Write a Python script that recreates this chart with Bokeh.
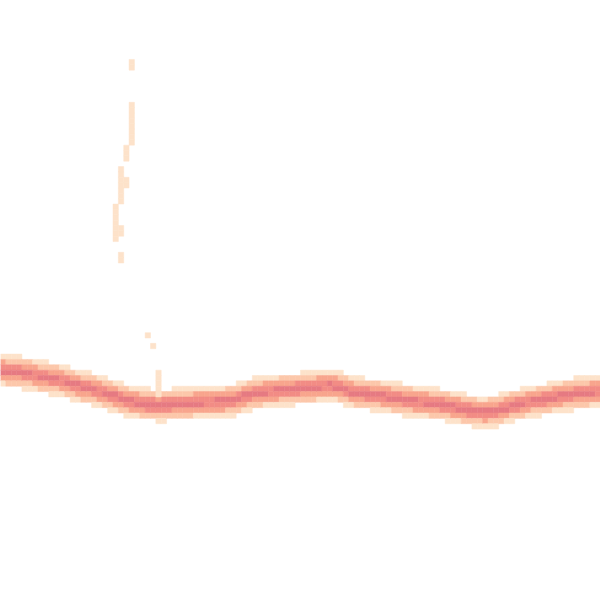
from bokeh.plotting import figure
from bokeh.models import Range1d, ColumnDataSource
from bokeh.embed import file_html
from bokeh.resources import INLINE

# ---- data (grid units: 112 x 112 cells, row counted from the top) ----
n_cells = 112
band_center_row = [
    69.1, 69.2, 69.3, 69.4, 69.6, 69.7, 70.0, 70.2, 70.4, 70.6,
    70.8, 71.0, 71.3, 71.6, 71.9, 72.2, 72.4, 72.7, 73.0, 73.3,
    73.6, 73.9, 74.2, 74.6, 74.9, 75.1, 75.3, 75.45, 75.5, 75.6,
    75.55, 75.5, 75.4, 75.3, 75.25, 75.2, 75.1, 75.05, 75.0, 75.0,
    74.95, 74.9, 74.8, 74.7, 74.3, 73.9, 73.6, 73.4, 73.2, 73.1,
    73.0, 72.9, 72.8, 72.7, 72.6, 72.5, 72.4, 72.3, 72.2, 72.1,
    72.0, 71.95, 72.05, 72.4, 72.8, 73.1, 73.3, 73.4, 73.5, 73.6,
    73.8, 73.9, 74.05, 74.2, 74.4, 74.6, 74.8, 74.9, 75.0, 75.1,
    75.2, 75.3, 75.5, 75.7, 75.9, 76.1, 76.3, 76.5, 76.7, 76.85,
    76.9, 76.8, 76.6, 76.4, 76.1, 75.8, 75.5, 75.2, 75.0, 74.85,
    74.7, 74.5, 74.3, 74.1, 73.95, 73.8, 73.6, 73.4, 73.3, 73.2,
    73.1, 73.0,
]
# sparse outlier cells: column, row, density level (1 = lowest)
outlier_col = [24, 24, 24, 24, 24, 24, 24, 24, 24, 24,
               23, 23, 23,
               22, 22, 22, 22, 22, 22, 22, 23, 23,
               21, 21, 21, 21, 21, 21, 21, 22, 22,
               22, 22,
               27, 28,
               29, 29, 29, 29, 29]
outlier_row = [11, 12, 19, 20, 21, 22, 23, 24, 25, 26,
               27, 28, 29,
               31, 32, 33, 34, 35, 36, 37, 33, 34,
               38, 39, 40, 41, 42, 43, 44, 42, 43,
               47, 48,
               62, 64,
               69, 70, 71, 72, 73]
outlier_level = [1] * len(outlier_col)

palette = ["#fde2ca", "#fcc7aa", "#f8a58d", "#f28c85", "#e67a82"]
level_limits = [0.5, 1.05, 1.6, 2.3, 3.0]  # distance (cells) -> level 5..1

# ---- build cells ----
xs, ys, cs = [], [], []
for c, ctr in enumerate(band_center_row):
    for r in range(int(ctr) - 4, int(ctr) + 5):
        d = abs((r + 0.5) - ctr)
        lvl = None
        for k, lim in enumerate(level_limits):
            if d < lim:
                lvl = 5 - k
                break
        if lvl:
            xs.append(c + 0.5)
            ys.append(r + 0.5)
            cs.append(palette[lvl - 1])
for c, r, lv in zip(outlier_col, outlier_row, outlier_level):
    xs.append(c + 0.5)
    ys.append(r + 0.5)
    cs.append(palette[lv - 1])

src = ColumnDataSource(dict(x=xs, y=ys, color=cs))

p = figure(width=600, height=600, output_backend="svg", toolbar_location=None,
           x_range=Range1d(0, n_cells), y_range=Range1d(n_cells, 0),
           min_border=0)
p.axis.visible = False
p.grid.visible = False
p.outline_line_color = None
p.background_fill_color = "white"
p.rect(x="x", y="y", width=1, height=1, source=src, fill_color="color",
       line_color="color", line_width=0.5)

open("out.html", "w").write(file_html(p, INLINE))
